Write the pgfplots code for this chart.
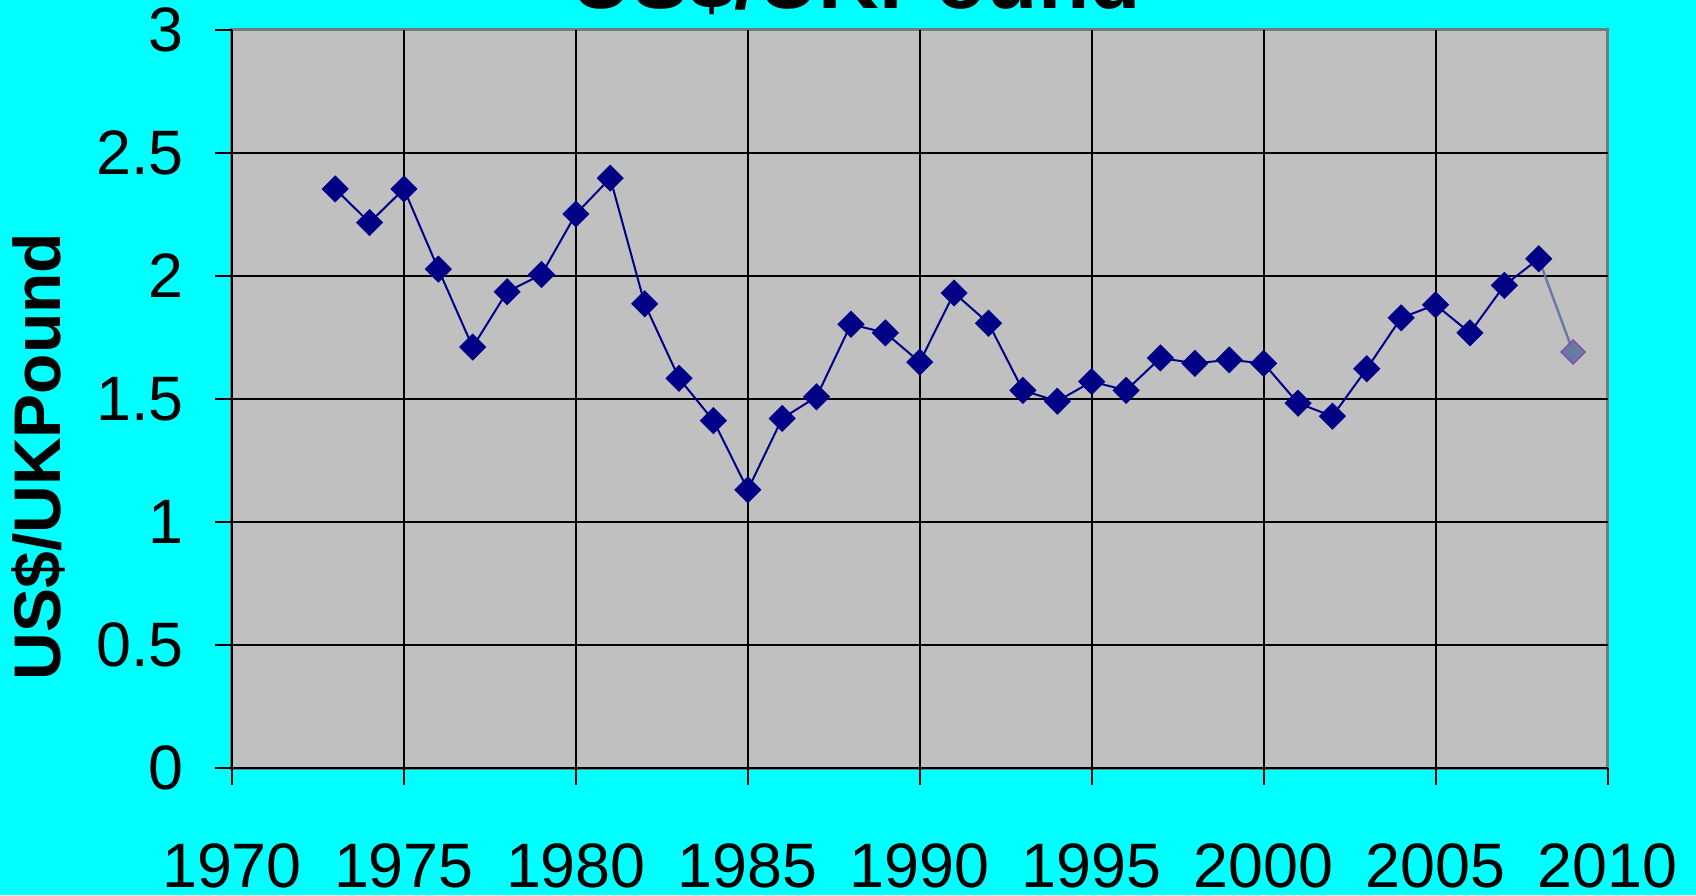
\documentclass[border=0pt]{standalone}
\usepackage{pgfplots}
\pgfplotsset{compat=1.18}
\usepackage{fontspec}
\setmainfont{Liberation Sans}
\definecolor{bgcyan}{RGB}{0,255,255}
\definecolor{plotgray}{RGB}{192,192,192}
\definecolor{navyline}{RGB}{0,0,135}
\definecolor{lastline}{RGB}{105,122,160}
\definecolor{lastmark}{RGB}{130,80,180}
\definecolor{edgegray}{RGB}{110,125,125}

\begin{document}
\begin{tikzpicture}
% cyan slide background
\fill[bgcyan] (-116pt,-63.5pt) rectangle (732pt,384pt);
\begin{axis}[
  at={(0,0)}, anchor=south west,
  scale only axis, width=687.75pt, height=369pt,
  xmin=1970, xmax=2010, ymin=0, ymax=3,
  xtick={1970,1975,1980,1985,1990,1995,2000,2005,2010},
  ytick={0,0.5,1,1.5,2,2.5,3},
  scaled x ticks=false,
  /pgf/number format/assume math mode=true,
  /pgf/number format/1000 sep={},
  axis x line*=bottom, axis y line*=left,
  axis line style={black, line width=1pt},
  axis background/.style={fill=plotgray, draw=edgegray, line width=1.5pt},
  tick align=outside, major tick length=8.5pt,
  tick style={black, line width=1pt},
  extra x ticks={1975,1980,1985,1990,1995,2000,2005},
  extra y ticks={0.5,1,1.5,2,2.5},
  extra x tick labels={}, extra y tick labels={},
  extra tick style={grid=major, major tick length=0pt},
  grid style={black, line width=1pt},
  xticklabel style={font=\fontsize{31.4}{36}\selectfont, anchor=north, inner sep=0pt, yshift=-29pt},
  yticklabel style={font=\fontsize{31.4}{36}\selectfont, anchor=east, inner sep=0pt, xshift=-15.5pt},
  ylabel={US\$/UKPound},
  ylabel style={at={(axis description cs:-0.1410,0.422)}, anchor=center, inner sep=0pt, font=\bfseries\fontsize{33}{38}\selectfont},
  title={US\$/UKPound},
  every axis title shift=0pt,
  title style={at={(axis description cs:0.4537,1.0285)}, anchor=base, inner sep=0pt, font=\bfseries\fontsize{42}{48}\selectfont},
]
% main series
\addplot[navyline, line width=1pt, mark=square*, mark size=4.6pt,
  mark options={rotate=45, fill=navyline, draw=navyline, line width=0.4pt}]
  coordinates {
  (1973,2.354) (1974,2.217) (1975,2.354) (1976,2.028) (1977,1.711)
  (1978,1.936) (1979,2.006) (1980,2.252) (1981,2.398) (1982,1.887)
  (1983,1.584) (1984,1.412) (1985,1.131) (1986,1.421) (1987,1.509)
  (1988,1.804) (1989,1.769) (1990,1.650) (1991,1.931) (1992,1.808)
  (1993,1.535) (1994,1.491) (1995,1.571) (1996,1.535) (1997,1.667)
  (1998,1.645) (1999,1.659) (2000,1.645) (2001,1.483) (2002,1.430)
  (2003,1.623) (2004,1.830) (2005,1.883) (2006,1.769) (2007,1.962)
  (2008,2.070)
  };
% last (estimate) segment
\addplot[lastline, line width=1.2pt, mark=square*, mark size=4.2pt,
  mark options={rotate=45, fill=lastline, draw=lastmark, line width=0.8pt},
  mark indices={2}]
  coordinates {(2008,2.070) (2009,1.691)};
\end{axis}
\pgfresetboundingbox
\useasboundingbox (-116pt,-63.5pt) rectangle (732pt,384pt);
\end{tikzpicture}
\end{document}
